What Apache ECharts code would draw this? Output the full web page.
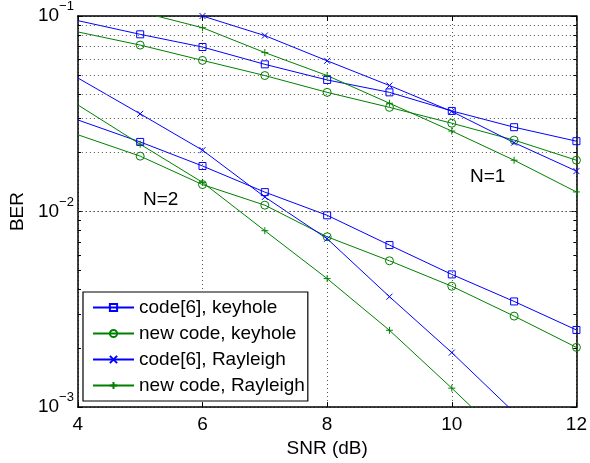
<!DOCTYPE html>
<html>
<head>
<meta charset="utf-8">
<script src="https://cdn.jsdelivr.net/npm/echarts@6/dist/echarts.min.js"></script>
<style>
  html, body { margin: 0; padding: 0; background: #fff; }
  #chart { width: 590px; height: 463px; }
</style>
</head>
<body>
<div id="chart"></div>
<script>
// SNR points (dB)
var snr = [4, 5, 6, 7, 8, 9, 10, 11, 12]

// N=1 curves
var code6KeyN1 = [0.0947, 0.0806, 0.0694, 0.0566, 0.0471, 0.0407, 0.0327, 0.0270, 0.0229]
var newKeyN1 = [0.0829, 0.0710, 0.0593, 0.0496, 0.0407, 0.0341, 0.0283, 0.0232, 0.0183]
var code6RayN1 = [null, null, 0.100, 0.0794, 0.0590, 0.0441, 0.0325, 0.0225, 0.0161]
var newRayN1 = [null, 0.105, 0.0871, 0.0650, 0.0496, 0.0358, 0.0258, 0.0183, 0.0126]

// N=2 curves
var code6KeyN2 = [0.0294, 0.0227, 0.0171, 0.01257, 0.00957, 0.00674, 0.00477, 0.00347, 0.00248]
var newKeyN2 = [0.0247, 0.0192, 0.01374, 0.01078, 0.00743, 0.00560, 0.00415, 0.00292, 0.00202]
var code6RayN2 = [0.0482, 0.0316, 0.0206, 0.01187, 0.00726, 0.00367, 0.00190, 0.00094, null]
var newRayN2 = [0.0351, 0.0221, 0.0141, 0.00798, 0.00454, 0.00247, 0.00125, 0.00062, null]

var legendNames = ['code[6], keyhole', 'new code, keyhole', 'code[6], Rayleigh', 'new code, Rayleigh']
var minorY = [0.002, 0.003, 0.004, 0.005, 0.006, 0.007, 0.008, 0.009,
  0.02, 0.03, 0.04, 0.05, 0.06, 0.07, 0.08, 0.09]

var BLUE = '#0000ff'
var GREEN = '#008000'
var SYM_X = 'path://M0,0L10,10M10,0L0,10'
var SYM_PLUS = 'path://M5,0L5,10M0,5L10,5'

function pts (vals) {
  // no marker drawn on the first point (x=4)
  return vals.map(function (v, i) {
    var p = { value: [snr[i], v] }
    if (i === 0) p.symbol = 'none'
    return p
  })
}

function line (name, vals, color, symbol, size, hollow) {
  return {
    name: name,
    type: 'line',
    data: pts(vals),
    symbol: symbol,
    symbolSize: size,
    showAllSymbol: true,
    clip: true,
    connectNulls: false,
    lineStyle: { color: color, width: 1 },
    itemStyle: {
      color: hollow ? 'rgba(0,0,0,0)' : color,
      borderColor: color,
      borderWidth: 1
    },
    emphasis: { disabled: true },
    z: 3
  }
}

var series = [
  line(legendNames[0], code6KeyN1, BLUE, 'rect', 7, true),
  line(legendNames[1], newKeyN1, GREEN, 'circle', 8, true),
  line(legendNames[2], code6RayN1, BLUE, SYM_X, 6, false),
  line(legendNames[3], newRayN1, GREEN, SYM_PLUS, 7, false),
  line(legendNames[0], code6KeyN2, BLUE, 'rect', 7, true),
  line(legendNames[1], newKeyN2, GREEN, 'circle', 8, true),
  line(legendNames[2], code6RayN2, BLUE, SYM_X, 6, false),
  line(legendNames[3], newRayN2, GREEN, SYM_PLUS, 7, false)
]

// dotted minor grid + small inside minor ticks on left/right box edges
var gridDots = minorY.map(function (v) { return { yAxis: v } })
var tickSegs = []
minorY.forEach(function (v) {
  tickSegs.push([{ coord: [4, v] }, { coord: [4.05, v], lineStyle: { type: 'solid', color: '#000' } }])
  tickSegs.push([{ coord: [11.95, v] }, { coord: [12, v], lineStyle: { type: 'solid', color: '#000' } }])
})
series[0].markLine = {
  silent: true,
  symbol: 'none',
  animation: false,
  label: { show: false },
  lineStyle: { color: '#555', type: [1, 3], width: 1 },
  emphasis: { disabled: true },
  data: gridDots.concat(tickSegs)
}

var FONT = 'Liberation Sans'
var AX = { color: '#000', width: 1.5 }

function expLabel (v) {
  var e = Math.round(Math.log10(v))
  return '{b|10}{s|' + (e < 0 ? '\u2212' + (-e) : e) + '}'
}

var myChart = echarts.init(document.getElementById('chart'))
var option = {
  animation: false,
  backgroundColor: '#fff',
  textStyle: { fontFamily: FONT, color: '#000' },
  grid: { left: 73, right: 10, top: 12, bottom: 52 },
  legend: {
    data: legendNames,
    orient: 'vertical',
    left: 83,
    top: 292,
    padding: [6, 3, 6, 9],
    itemGap: 7,
    itemWidth: 41,
    itemHeight: 9,
    backgroundColor: '#fff',
    borderColor: '#000',
    borderWidth: 1.2,
    textStyle: { fontSize: 19, color: '#000', fontFamily: FONT },
    z: 10
  },
  xAxis: [
    {
      type: 'value',
      min: 4,
      max: 12,
      interval: 2,
      name: 'SNR (dB)',
      nameLocation: 'middle',
      nameGap: 22,
      nameTextStyle: { fontSize: 19, color: '#000' },
      axisLine: { show: true, lineStyle: AX },
      axisTick: { inside: true, length: 5, lineStyle: { color: '#000' } },
      axisLabel: { fontSize: 19, color: '#000', margin: 8 },
      splitLine: { show: true, lineStyle: { color: '#555', type: [1, 3], width: 1 } }
    },
    {
      type: 'value',
      position: 'top',
      min: 4,
      max: 12,
      interval: 2,
      axisLine: { show: true, onZero: false, lineStyle: AX },
      axisTick: { inside: true, length: 5, lineStyle: { color: '#000' } },
      axisLabel: { show: false },
      splitLine: { show: false }
    }
  ],
  yAxis: [
    {
      type: 'log',
      logBase: 10,
      min: 0.001,
      max: 0.1,
      interval: 1,
      name: 'BER',
      nameLocation: 'middle',
      nameGap: 46,
      nameTextStyle: { fontSize: 19, color: '#000' },
      axisLine: { show: true, lineStyle: AX },
      axisTick: { inside: true, length: 5, lineStyle: { color: '#000' } },
      axisLabel: {
        margin: 4,
        formatter: expLabel,
        rich: {
          b: { fontSize: 19, lineHeight: 32, color: '#000', fontFamily: FONT },
          s: { fontSize: 13, lineHeight: 12, verticalAlign: 'top', color: '#000', fontFamily: FONT }
        }
      },
      splitLine: { show: true, lineStyle: { color: '#555', type: [1, 3], width: 1 } }
    },
    {
      type: 'log',
      logBase: 10,
      position: 'right',
      min: 0.001,
      max: 0.1,
      interval: 1,
      axisLine: { show: true, onZero: false, lineStyle: AX },
      axisTick: { inside: true, length: 5, lineStyle: { color: '#000' } },
      axisLabel: { show: false },
      splitLine: { show: false }
    }
  ],
  graphic: [
    { type: 'text', left: 143, top: 190, style: { text: 'N=2', fontSize: 19, fontFamily: FONT, fill: '#000' } },
    { type: 'text', left: 470, top: 167, style: { text: 'N=1', fontSize: 19, fontFamily: FONT, fill: '#000' } }
  ],
  series: series
}
myChart.setOption(option, true)
</script>
</body>
</html>
